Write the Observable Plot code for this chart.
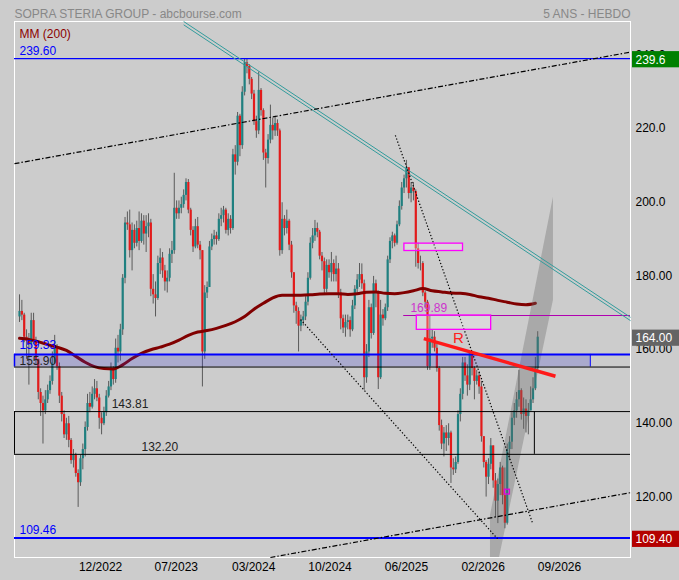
<!DOCTYPE html>
<html><head><meta charset="utf-8">
<script src="https://cdn.jsdelivr.net/npm/d3@7"></script>
<script src="https://cdn.jsdelivr.net/npm/@observablehq/plot@0.6"></script>
<style>
html,body{margin:0;padding:0;background:#cccccc;}
svg{display:block;}
</style></head><body><div id="chart"></div>
<script>
// ---------- DATA ----------
const START_WEEK = "2022-04-01";          // first weekly bar
const firstOpen = 169.5;
const closes = [
171,170,164,163,162,168.5,163,158,149,146,
144,147,149.5,152,157,161,156,148,143,137.5,
140.5,136,130.5,132,127,124.5,131,133.5,139.5,146,
145,148.5,150,147.5,142,140.5,143.5,148,150.5,155,
152.5,161,160,166,180,195,194.5,187.5,193,189.5,
193.5,190,195.5,192,194,195,177,175.5,174.5,184,
185.5,182,179,180,186.5,187.5,199,197.5,199,200,
202.5,206,198.5,193,188.5,194,189,187.5,160,176,
177.5,188.5,190.5,191.5,190.5,196,197,198.5,193,196,
193.5,213.5,211.5,224,216,230.5,238.5,237.5,234,230,
222.5,220,231,225.5,214,212.5,217.5,221.5,220,222,
220,187.5,196,193.5,195.5,189,181.5,172.5,171,167,
168.5,169.5,173.5,180,189.5,191.5,193.5,192.5,186,184.5,
177,183.5,181.5,184,181,182.5,176,169,166.5,168,
168.5,166,172.5,177,179.5,181,178.5,153,160,172,
165,178.5,176,153,170,169,172,185,190,191.5,
189.5,194.5,199.5,204.5,207,210,203,204.5,203.5,188,
184,184,176,173.5,156,163.5,164,161,155.5,140,
135,138,136.5,138,128.5,128,130,143,148.5,157,
153.5,151,159.5,155.5,152,153.5,150.5,137,130,126,
129.5,134.5,125,119.5,124,128.5,121,113.5,133.5,135.5,
142,144,147,149.5,143,144.5,142.5,144,147,150,
155.5,164];
const highs = [
175.5,174,170.5,166,165,170.5,170.5,164,158,150,
148,149.5,151,153.5,160,164.5,162,157,149,144,
142,142.5,136.5,133.5,132.5,128,132,135,141,148.5,
149,150.5,152.5,152,148.5,143.5,145,149.5,152,157,
156,163.5,164.5,167.5,181,196.5,198,198.5,195,194.5,
195.5,198,197.5,197,197,197.5,196,181,179,186,
188,187,183.5,182,188,190,208.5,201,201,202,
204,207,206.8,199,194,196,196.5,190,187.5,178,
179,190,192,193,192.5,197.5,199,199.5,199,197.5,
197,215,216,225,224.5,232,239.6,239.5,238,234.5,
231,224,236,231.5,226,215,219,227,223.5,224,
223,220.5,200.5,197,198.5,196,190,181.5,173.5,172,
170,171,175,181.5,191,193.5,195.7,195,193,187,
185.5,185,185,187,185,186,184,177,170,170,
170,169.5,174,178,181,184,183.9,179.5,162,174,
173,180.5,179.5,176.5,174,171.5,173,186,191,192.5,
192,195.5,201,206,208,212,210,206,206,204,
189.5,186,184.5,176.5,174,169.8,166,165.5,162,156,
141.5,139.5,140,140.5,138.5,131,131.5,144,150,158.5,
158.5,156.5,160,159.8,156,155,154.5,152,137,130.5,
131,136.5,134,127,125.5,130,129,128.5,135,137,
143.5,146,149,155,150,147.5,147,146,150.5,153,
158.5,165.5];
const lows = [
168,168.5,162.5,158,151,161,162,156.5,147,142.5,
135,143,146,148.5,151,156.5,155,146,141,136.5,
136,134,129.5,128.5,126,117.8,123.5,128,131.5,138.5,
143.5,144.5,147,146.5,139,137.5,140,142.5,147.5,149.5,
151,151.5,157,157.5,164.5,178.5,193,185.5,182,188,
188.5,187.5,189.5,189,187,191,175,173,169.5,174,
181,180,176.5,176,179,184,186.5,196,196,197.5,
199,201,197.5,191.5,187,188,188,185,150.5,158,
174.5,177.5,187.5,189,189,190,194,195,192,191.5,
192,193,208,210.5,213,215,229.5,235.5,232.5,228.5,
221.5,218,219,224,212,204.5,211,216.5,217.5,218.5,
218.5,186,186.5,191.5,192,187.5,180,170.5,167.5,160,
165.5,167,168.5,172.5,179.5,188,190,191,185,182,
175.5,176,180,179,179,179,174.5,166,165,164,
166,164,165.5,171.5,175.5,177.5,177,149.6,151.5,158.5,
163.5,164.5,172,149.8,152.5,167,168.5,171,184,188,
188.5,189,194,198.5,203,204.5,201.5,200.5,201,183,
182.5,182,175,172,155,155,161,160,154.5,138.5,
133.5,131.5,133,134.5,124.3,126.5,127,129.5,141,147,
152,148,149.5,153.5,147,151,148.5,135.5,128.5,120.6,
124,128,123,115,113.4,121,118.5,112,113,130.5,
133.5,140,142,145,141.5,139,138,137.5,145,146,
149.5,155];
// MM(200), one reading every 4 weekly bars
const ma200Every4 = [163.7,163.4,162.8,162.0,161.3,160.4,158.8,157.2,156.0,155.5,
155.4,156.5,158.2,159.6,160.6,161.3,162.1,163.2,164.5,165.4,
165.8,166.4,167.2,168.2,169.6,171.6,173.2,174.7,175.4,175.4,
175.4,175.5,175.7,175.8,175.8,175.6,175.8,176.2,176.3,175.9,
175.8,176.1,176.6,177.2,176.6,176.3,176.0,175.9,175.6,175.0,
174.6,174.0,173.5,173.0,172.8,173.2];

const xDomain = ["2022-03-17", "2027-03-30"];
const yDomain = [104.2, 249.7];
const yTickValues = [240, 220, 200, 180, 160, 140, 120];
const yTickLabels = ["240.0", "220.0", "200.0", "180.00", "160.00", "140.00", "120.00"];
const xTickDates = ["2022-11-29", "2023-07-13", "2024-02-29", "2024-10-14", "2025-05-30", "2026-01-14", "2026-08-30"];
const xTickLabels = ["12/2022", "07/2023", "03/2024", "10/2024", "06/2025", "02/2026", "09/2026"];

const levelHigh = 239.60, levelLow = 109.46;
const blueZone = [155.90, 159.33], blueZoneEnd = "2026-11-30";
const blackZone = [132.20, 143.81], blackZoneEnd = "2026-06-16";
const blackZoneLabelDates = ["2023-03-31", "2023-01-01"];
const level16989 = 169.89, level16989Start = "2025-05-22", level16989LabelDate = "2025-06-11";
const tealDates = ["2023-08-04", "2027-03-30"], tealPricesA = [249.7, 169.4], tealPricesB = [248.8, 168.5];
const dashDotUpperDates = ["2022-03-17", "2027-03-30"], dashDotUpperPrices = [211.1, 241.4];
const dashDotLowerDates = ["2024-04-19", "2027-03-30"], dashDotLowerPrices = [104.2, 121.8];
const dotted1Dates = ["2024-07-18", "2026-02-26"], dotted1Prices = [168.8, 109.3];
const dotted2Dates = ["2025-04-27", "2026-06-10"], dotted2Prices = [218.8, 113.7];
const lineRDates = ["2025-07-21", "2026-08-18"], lineRPrices = [163.6, 153.4], lineRLabelDate = "2025-11-01";
const channelDates = ["2026-02-05", "2026-03-04", "2026-08-12"], channelLow = [104.2, 104.2, 174.0], channelHigh = [115.6, 127.9, 202.0];
const boxADates = ["2025-05-24", "2025-11-15"], boxAPrices = [187.4, 189.4];
const boxBDates = ["2025-06-30", "2026-02-07"], boxBPrices = [166.0, 169.9];
const boxCDates = ["2026-03-20", "2026-04-04"], boxCPrices = [121.3, 122.6];
const tagDates = ["2027-04-05", "2027-09-01"];
const tagValues = [239.6, 164.00, 109.40];
const tagTexts = ["239.6", "164.00", "109.40"];

// ---------- BUILD ----------
const D = s => new Date(s);
const xMin = D(xDomain[0]);
const start = D(START_WEEK);
const candles = closes.map((c, i) => ({
  date: d3.utcDay.offset(start, 7 * i),
  open: i === 0 ? firstOpen : closes[i - 1],
  close: c, high: highs[i], low: lows[i]
}));
const maData = ma200Every4.map((v, k) => ({date: d3.utcDay.offset(start, 28 * k), value: v}));
const seg = (dates, prices) => [{x1: D(dates[0]), x2: D(dates[1]), y1: prices[0], y2: prices[1]}];
const channel = channelDates.map((d, i) => ({date: D(d), lo: channelLow[i], hi: channelHigh[i]}));
const xTicks = xTickDates.map(D);
const tagColors = ["#008000", "#646464", "#b40000"];
const tags = tagValues.map((v, i) => ({v, t: tagTexts[i], c: tagColors[i]}));
const tagHalf = 2.2;
const font = "Liberation Sans, Arial, sans-serif";

const chart = Plot.plot({
  width: 679, height: 580,
  marginLeft: 14, marginRight: 49, marginTop: 21, marginBottom: 23,
  style: {background: "#cccccc", fontFamily: font, fontSize: "12px", color: "black", overflow: "visible"},
  x: {type: "utc", domain: [D(xDomain[0]), D(xDomain[1])]},
  y: {domain: yDomain},
  marks: [
    Plot.frame({stroke: "white", strokeWidth: 1}),
    // candles
    Plot.ruleX(candles, {x: "date", y1: d => Math.min(d.low, d.open, d.close), y2: d => Math.max(d.high, d.open, d.close), stroke: "#5a5a5a", strokeWidth: 1}),
    Plot.ruleX(candles, {x: "date", y1: "open", y2: "close", stroke: d => d.close >= d.open ? "#1f8080" : "#e31b1b", strokeWidth: 2.2}),
    // moving average
    Plot.line(maData, {x: "date", y: "value", stroke: "#800000", strokeWidth: 3, curve: "monotone-x"}),
    // gray channel
    Plot.areaY(channel, {x: "date", y1: "lo", y2: "hi", fill: "#666666", fillOpacity: 0.35}),
    // blue zone
    Plot.rect([blueZone], {x1: () => xMin, x2: () => D(blueZoneEnd), y1: d => d[0], y2: d => d[1], fill: "#3030d0", fillOpacity: 0.22}),
    Plot.ruleX([blueZone], {x: () => D(blueZoneEnd), y1: d => d[0], y2: d => d[1], stroke: "#0000ff", strokeWidth: 1}),
    Plot.ruleX([blueZone], {x: () => xMin, y1: d => d[0], y2: d => d[1], stroke: "#0000ff", strokeWidth: 1.5}),
    Plot.ruleY([blueZone[0]], {stroke: "black", strokeWidth: 1}),
    Plot.ruleY([blueZone[1]], {stroke: "#0000ff", strokeWidth: 2}),
    // black zone
    Plot.ruleY(blackZone, {stroke: "black", strokeWidth: 1}),
    Plot.ruleX([blackZone], {x: () => D(blackZoneEnd), y1: d => d[0], y2: d => d[1], stroke: "black", strokeWidth: 1}),
    Plot.ruleX([blackZone], {x: () => xMin, y1: d => d[0], y2: d => d[1], stroke: "black", strokeWidth: 1}),
    // levels
    Plot.ruleY([levelHigh], {stroke: "#0000ff", strokeWidth: 1.3}),
    Plot.ruleY([levelLow], {stroke: "#0000ff", strokeWidth: 2}),
    Plot.ruleY([level16989], {x1: () => D(level16989Start), x2: () => D(xDomain[1]), stroke: "#b000b0", strokeWidth: 1}),
    // trend lines
    Plot.link(seg(tealDates, tealPricesA), {x1: "x1", y1: "y1", x2: "x2", y2: "y2", stroke: "#339c9c", strokeWidth: 1}),
    Plot.link(seg(tealDates, tealPricesB), {x1: "x1", y1: "y1", x2: "x2", y2: "y2", stroke: "#339c9c", strokeWidth: 1}),
    Plot.link(seg(dashDotUpperDates, dashDotUpperPrices), {x1: "x1", y1: "y1", x2: "x2", y2: "y2", stroke: "black", strokeWidth: 1.2, strokeDasharray: "5,2,1.5,2"}),
    Plot.link(seg(dashDotLowerDates, dashDotLowerPrices), {x1: "x1", y1: "y1", x2: "x2", y2: "y2", stroke: "black", strokeWidth: 1.2, strokeDasharray: "5,2,1.5,2"}),
    Plot.link(seg(dotted1Dates, dotted1Prices), {x1: "x1", y1: "y1", x2: "x2", y2: "y2", stroke: "black", strokeWidth: 1.2, strokeDasharray: "1.3,2"}),
    Plot.link(seg(dotted2Dates, dotted2Prices), {x1: "x1", y1: "y1", x2: "x2", y2: "y2", stroke: "black", strokeWidth: 1.2, strokeDasharray: "1.3,2"}),
    Plot.link(seg(lineRDates, lineRPrices), {x1: "x1", y1: "y1", x2: "x2", y2: "y2", stroke: "#ff1a1a", strokeWidth: 3.5}),
    // magenta boxes
    Plot.rect(seg(boxADates, boxAPrices), {x1: "x1", x2: "x2", y1: "y1", y2: "y2", stroke: "#ff00ff", strokeWidth: 1.3, fill: "white", fillOpacity: 0.25}),
    Plot.rect(seg(boxBDates, boxBPrices), {x1: "x1", x2: "x2", y1: "y1", y2: "y2", stroke: "#ff00ff", strokeWidth: 1.3, fill: "white", fillOpacity: 0.25}),
    Plot.rect(seg(boxCDates, boxCPrices), {x1: "x1", x2: "x2", y1: "y1", y2: "y2", stroke: "#e000e0", strokeWidth: 1.3, fill: "none"}),
    // texts inside chart
    Plot.text([levelHigh], {y: d => d, text: d => d.toFixed(2), frameAnchor: "left", dx: 5, dy: -8, textAnchor: "start", fill: "#0000ff", fontSize: 12}),
    Plot.text([levelLow], {y: d => d, text: d => d.toFixed(2), frameAnchor: "left", dx: 5, dy: -8, textAnchor: "start", fill: "#0000ff", fontSize: 12}),
    Plot.text([blueZone[1]], {y: d => d, text: d => d.toFixed(2), frameAnchor: "left", dx: 5, dy: -9, textAnchor: "start", fill: "#0000ff", fontSize: 12}),
    Plot.text([blueZone[0]], {y: d => d, text: d => d.toFixed(2), frameAnchor: "left", dx: 5, dy: -6, textAnchor: "start", fill: "#222", fontSize: 12}),
    Plot.text(blackZone, {x: (d, i) => D(blackZoneLabelDates[i]), y: d => d, text: d => d.toFixed(2), dy: (-7), textAnchor: "start", fill: "#222", fontSize: 12}),
    Plot.text([level16989], {x: () => D(level16989LabelDate), y: d => d, text: d => d.toFixed(2), dy: -7, textAnchor: "start", fill: "#cc33cc", fontSize: 12}),
    Plot.text(["R"], {x: () => D(lineRLabelDate), y: () => lineRPrices[0], text: d => d, fill: "#ff2020", fontSize: 15, dy: 0}),
    Plot.text(["MM (200)"], {frameAnchor: "top-left", text: d => d, dx: 5, dy: 8, textAnchor: "start", fill: "#8b0000", fontSize: 12}),
    Plot.text(["SOPRA STERIA GROUP - abcbourse.com"], {frameAnchor: "top-left", text: d => d, dy: -12, textAnchor: "start", fill: "#888888", fontSize: 12}),
    Plot.text(["5 ANS - HEBDO"], {frameAnchor: "top-right", text: d => d, dy: -12, textAnchor: "end", fill: "#888888", fontSize: 12}),
    // axes
    Plot.axisY({anchor: "right", ticks: yTickValues, tickFormat: d => yTickLabels[yTickValues.indexOf(d)], tickSize: 0, tickPadding: 5, textAnchor: "start", dy: -2.5, fill: "black", fontSize: 12, label: null}),
    Plot.axisX({ticks: xTicks, tickFormat: d => xTickLabels[xTicks.findIndex(t => +t === +d)], tickSize: 0, tickPadding: 5, fill: "black", fontSize: 12, label: null}),
    // right price tags
    Plot.rect(tags, {x1: () => D(tagDates[0]), x2: () => D(tagDates[1]), y1: d => d.v - tagHalf, y2: d => d.v + tagHalf, fill: d => d.c, dy: 1}),
    Plot.text(tags, {y: "v", text: "t", frameAnchor: "right", dx: 5, dy: 1, textAnchor: "start", fill: "white", fontSize: 12})
  ]
});
document.getElementById("chart").appendChild(chart);
</script>
</body></html>
